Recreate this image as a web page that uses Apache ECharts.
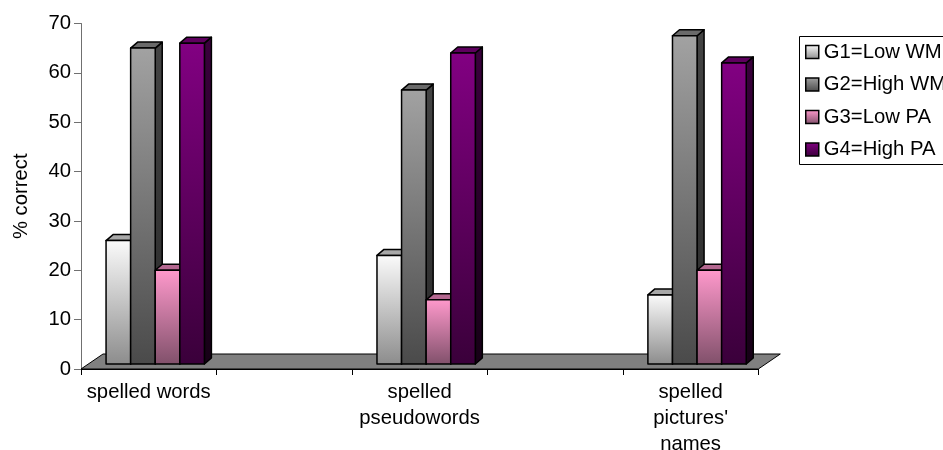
<!DOCTYPE html>
<html>
<head>
<meta charset="utf-8">
<script src="https://cdn.jsdelivr.net/npm/echarts@6.0.0/dist/echarts.min.js"></script>
<style>
  html, body { margin: 0; padding: 0; background: #ffffff; }
  #chart { width: 943px; height: 450px; }
</style>
</head>
<body>
<div id="chart"></div>
<script>
// Task categories (blank slots separate the three groups on the floor)
const categories = ['spelled words', '', 'spelled\npseudowords', '', "spelled\npictures'\nnames"];
const groupNames = ['G1=Low WM', 'G2=High WM', 'G3=Low PA', 'G4=High PA'];
const yTicks = [0, 10, 20, 30, 40, 50, 60, 70];

// % correct per group, one entry per category slot
const g1 = [25, null, 22, null, 14];
const g2 = [64, null, 55.5, null, 66.5];
const g3 = [19, null, 13, null, 19];
const g4 = [65, null, 63, null, 61];
const groupValues = [g1, g2, g3, g4];

const FONT = '"Liberation Sans", Arial, sans-serif';
const FS = 20.3;

// Face colours: front gradient, top face, side gradient
const frontFills = [
  ['#fbfbfb', '#8c8c8c'],
  ['#a2a2a2', '#4a4a4a'],
  ['#ff99cc', '#80506a'],
  ['#820082', '#3a003a']
];
const topFills = ['#a8a8a8', '#6a6a6a', '#b46890', '#5e005e'];
const sideFills = [
  ['#9a9a9a', '#6a6a6a'],
  ['#444444', '#2a2a2a'],
  ['#8a4a6a', '#5a3045'],
  ['#3a003c', '#160016']
];

function vGrad(c) {
  return new echarts.graphic.LinearGradient(0, 0, 0, 1, [
    { offset: 0, color: c[0] }, { offset: 1, color: c[1] }
  ]);
}

// Pseudo-3D geometry (pixels)
const SHIFT_X = 6.5, SHIFT_Y = -5;   // bars stand a little behind the floor's front edge
const DEPTH_X = 7, DEPTH_Y = -6;     // depth of each column
const FLOOR_X = 22, FLOOR_Y = -15;   // depth of the floor
const BAR_RATIO = 0.1815;            // column width as a share of a category band

function barRenderer(gi) {
  return function (params, api) {
    const ci = api.value(0);
    const v = api.value(1);
    const top = api.coord([ci, v]);
    const base = api.coord([ci, 0]);
    const band = api.size([1, 0])[0];
    const bw = band * BAR_RATIO;
    const x0 = top[0] - 2 * bw + gi * bw + SHIFT_X;
    const x1 = x0 + bw;
    const yT = top[1] + SHIFT_Y;
    const yB = base[1] + SHIFT_Y;
    const edge = { stroke: '#000', lineWidth: 1.5, lineJoin: 'round' };
    return {
      type: 'group',
      children: [
        {
          type: 'polygon',
          shape: { points: [[x1, yB], [x1, yT], [x1 + DEPTH_X, yT + DEPTH_Y], [x1 + DEPTH_X, yB + DEPTH_Y]] },
          style: Object.assign({ fill: vGrad(sideFills[gi]) }, edge)
        },
        {
          type: 'polygon',
          shape: { points: [[x0, yT], [x1, yT], [x1 + DEPTH_X, yT + DEPTH_Y], [x0 + DEPTH_X, yT + DEPTH_Y]] },
          style: Object.assign({ fill: topFills[gi] }, edge)
        },
        {
          type: 'rect',
          shape: { x: x0, y: yT, width: bw, height: yB - yT },
          style: Object.assign({ fill: vGrad(frontFills[gi]) }, edge)
        }
      ]
    };
  };
}

// Grey floor under the columns, spanning the whole category axis
function floorRenderer(params) {
  const cs = params.coordSys;
  const yF = cs.y + cs.height, xL = cs.x, xR = cs.x + cs.width;
  return {
    type: 'polygon',
    shape: { points: [[xL, yF], [xR, yF], [xR + FLOOR_X, yF + FLOOR_Y], [xL + FLOOR_X, yF + FLOOR_Y]] },
    style: { fill: '#808080', stroke: '#000', lineWidth: 1 }
  };
}

const series = [{
  type: 'custom',
  name: 'floor',
  renderItem: floorRenderer,
  data: [[0, 0]],
  silent: true,
  z: 1
}];

groupValues.forEach(function (vals, gi) {
  const data = [];
  vals.forEach(function (v, i) { if (v != null) data.push([i, v]); });
  series.push({
    type: 'custom',
    name: groupNames[gi],
    renderItem: barRenderer(gi),
    data: data,
    itemStyle: { color: frontFills[gi][0], borderColor: '#000' },
    z: 2 + gi
  });
});

const chart = echarts.init(document.getElementById('chart'), null, { renderer: 'canvas' });
chart.setOption({
  animation: false,
  backgroundColor: '#ffffff',
  textStyle: { fontFamily: FONT },
  grid: {
    left: 81, right: 184.7, top: 23.5, bottom: 81,
    containLabel: false,
    outerBoundsMode: 'none'
  },
  // legend frame runs past the right edge of the canvas
  graphic: [{
    type: 'rect',
    shape: { x: 799.5, y: 36.5, width: 220, height: 128 },
    style: { fill: null, stroke: '#000', lineWidth: 1 },
    silent: true,
    z: 0
  }],
  legend: {
    orient: 'vertical',
    left: 799,
    top: 36,
    padding: [6, 6, 6, 6],
    itemWidth: 13,
    itemHeight: 13,
    itemGap: 12.5,
    icon: 'rect',
    selectedMode: false,
    borderWidth: 0,
    textStyle: { fontFamily: FONT, fontSize: FS, color: '#000', lineHeight: 20 },
    data: groupNames.map(function (n, gi) {
      return {
        name: n,
        itemStyle: {
          color: {
            type: 'linear', x: 0, y: 0, x2: 0, y2: 1,
            colorStops: [
              { offset: 0, color: frontFills[gi][0] },
              { offset: 1, color: frontFills[gi][1] }
            ]
          },
          borderColor: '#000',
          borderWidth: 1.5
        }
      };
    })
  },
  xAxis: {
    type: 'category',
    data: categories,
    boundaryGap: true,
    axisLine: { show: true, lineStyle: { color: '#000', width: 1 } },
    axisTick: { show: true, interval: 0, length: 6, lineStyle: { color: '#000' } },
    axisLabel: {
      interval: 0,
      margin: 10,
      fontFamily: FONT,
      fontSize: FS,
      lineHeight: 26,
      color: '#000'
    },
    splitLine: { show: false }
  },
  yAxis: {
    type: 'value',
    min: yTicks[0],
    max: yTicks[yTicks.length - 1],
    interval: yTicks[1] - yTicks[0],
    name: '% correct',
    nameLocation: 'middle',
    nameGap: 50,
    nameTextStyle: { fontFamily: FONT, fontSize: FS, color: '#000' },
    axisLine: { show: true, lineStyle: { color: '#707070', width: 1 } },
    axisTick: { show: true, length: 7, lineStyle: { color: '#707070' } },
    axisLabel: { margin: 10, fontFamily: FONT, fontSize: FS, color: '#000' },
    splitLine: { show: false }
  },
  series: series
});
</script>
</body>
</html>
